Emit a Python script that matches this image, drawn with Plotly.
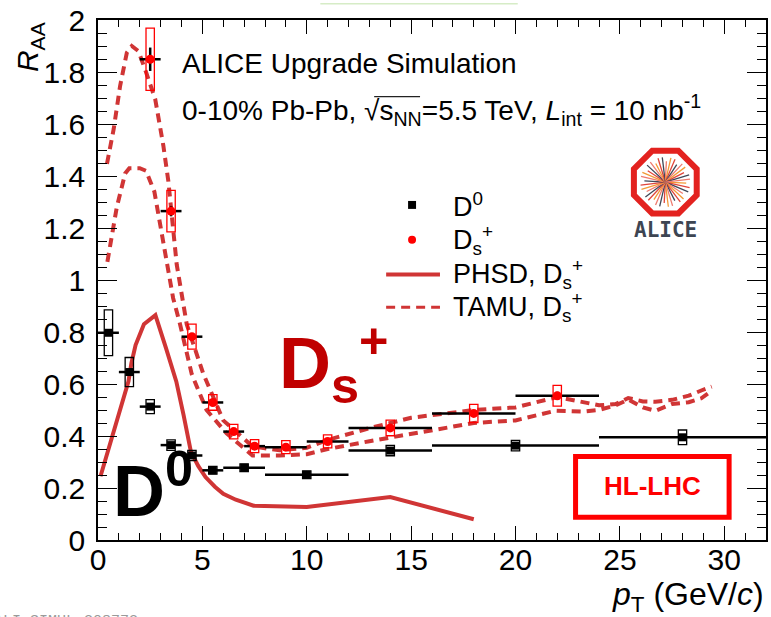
import math
import plotly.graph_objects as go

# ---------------- data ----------------
d0_pt = [0.5, 1.5, 2.5, 3.5, 4.5, 5.5, 7.0, 10.0, 14.0, 20.0, 28.0]
d0_ex = [0.5, 0.5, 0.5, 0.5, 0.5, 0.5, 1.0, 2.0, 2.0, 4.0, 4.0]
d0_raa = [0.797, 0.646, 0.513, 0.365, 0.325, 0.268, 0.278, 0.251, 0.344, 0.363, 0.395]
d0_stat = [0.01, 0.01, 0.01, 0.01, 0.01, 0.008, 0.008, 0.008, 0.01, 0.01, 0.012]
d0_syst = [0.088, 0.056, 0.027, 0.02, 0.02, 0.015, 0.015, 0.015, 0.02, 0.02, 0.028]

ds_pt = [2.5, 3.5, 4.5, 5.5, 6.5, 7.5, 9.0, 11.0, 14.0, 18.0, 22.0]
ds_ex = [0.5, 0.5, 0.5, 0.5, 0.5, 0.5, 1.0, 1.0, 2.0, 2.0, 2.0]
ds_raa = [1.849, 1.265, 0.782, 0.529, 0.417, 0.361, 0.357, 0.379, 0.431, 0.487, 0.555]
ds_stat = [0.045, 0.02, 0.012, 0.01, 0.01, 0.008, 0.008, 0.008, 0.01, 0.012, 0.015]
ds_syst = [0.12, 0.08, 0.048, 0.03, 0.028, 0.025, 0.025, 0.025, 0.03, 0.035, 0.04]

phsd_pt = [0.12, 0.8, 1.46, 1.6, 1.8, 2.2, 2.75, 3.25, 3.75, 4.1, 4.45, 4.8, 5.15,
           5.6, 6.0, 6.6, 7.45, 10.0, 14.0, 18.0]
phsd_raa = [0.245, 0.43, 0.61, 0.68, 0.75, 0.83, 0.865, 0.74, 0.61, 0.48, 0.34, 0.285,
            0.242, 0.205, 0.178, 0.155, 0.132, 0.127, 0.165, 0.08]

tamu_hi_pt = [0.43, 0.75, 1.06, 1.38, 1.62, 1.94, 2.3, 2.74, 3.13, 3.37, 3.77, 4.25, 5.04,
              6.0, 7.4, 8.7, 10.0, 11.0, 13.0, 15.0, 18.0, 20.0, 22.0, 23.3, 24.0, 24.8,
              25.4, 26.1, 26.7, 27.5, 28.3, 28.9, 29.4]
tamu_hi_raa = [1.447, 1.58, 1.747, 1.874, 1.90, 1.88, 1.80, 1.696, 1.517, 1.38, 1.06, 0.83,
               0.64, 0.46, 0.36, 0.345, 0.355, 0.385, 0.43, 0.47, 0.50, 0.51, 0.55, 0.528,
               0.518, 0.523, 0.546, 0.533, 0.532, 0.539, 0.555, 0.575, 0.59]
tamu_lo_pt = [0.45, 0.9, 1.3, 1.5, 2.0, 2.3, 2.7, 3.0, 3.3, 3.6, 3.93, 4.49, 5.2, 6.16,
              7.4, 8.7, 10.0, 11.0, 13.0, 14.5, 16.0, 18.0, 20.0, 21.9, 23.3, 24.0, 24.8,
              25.4, 26.1, 26.7, 27.5, 28.3, 28.9, 29.4]
tamu_lo_raa = [1.07, 1.28, 1.41, 1.43, 1.43, 1.42, 1.34, 1.21, 1.06, 0.93, 0.83, 0.638,
               0.50, 0.41, 0.325, 0.325, 0.33, 0.35, 0.38, 0.40, 0.42, 0.45, 0.46, 0.497,
               0.494, 0.50, 0.518, 0.54, 0.51, 0.497, 0.523, 0.53, 0.545, 0.574]

legend_labels = ["D<sup>0</sup>", "D<sub>s</sub><sup>+</sup>",
                 "PHSD, D<sub>s</sub><sup>+</sup>", "TAMU, D<sub>s</sub><sup>+</sup>"]

# ---------------- styling ----------------
W, H = 771, 617
ML, MR, MT, MB = 98, 3, 17, 77
PW, PH = W - ML - MR, H - MT - MB
FONT = "Liberation Sans, Arial, sans-serif"
THEO = "#d03535"
BOXW = 0.2


def px(x):
    return (x - ML) / PW


def py(y):
    return (H - MB - y) / PH


fig = go.Figure()

fig.add_trace(go.Scatter(x=phsd_pt, y=phsd_raa, mode="lines",
                         line=dict(color=THEO, width=4), showlegend=False))
fig.add_trace(go.Scatter(x=tamu_hi_pt, y=tamu_hi_raa, mode="lines",
                         line=dict(color=THEO, width=4, dash="9px,6px"), showlegend=False))
fig.add_trace(go.Scatter(x=tamu_lo_pt, y=tamu_lo_raa, mode="lines",
                         line=dict(color=THEO, width=4, dash="9px,6px"), showlegend=False))

fig.add_trace(go.Scatter(
    x=d0_pt, y=d0_raa, mode="markers",
    marker=dict(symbol="square", size=8, color="black"),
    error_x=dict(type="data", array=d0_ex, color="black", thickness=2.5, width=0),
    error_y=dict(type="data", array=d0_stat, color="black", thickness=2.5, width=0),
    showlegend=False))
fig.add_trace(go.Scatter(
    x=ds_pt, y=ds_raa, mode="markers",
    marker=dict(symbol="circle", size=9, color="#ff0000"),
    error_x=dict(type="data", array=ds_ex, color="black", thickness=2.5, width=0),
    error_y=dict(type="data", array=ds_stat, color="black", thickness=2.5, width=0),
    showlegend=False))

shapes = []
for x, y, s in zip(d0_pt, d0_raa, d0_syst):
    shapes.append(dict(type="rect", xref="x", yref="y", x0=x - BOXW, x1=x + BOXW,
                       y0=y - s, y1=y + s, line=dict(color="black", width=1.3)))
for x, y, s in zip(ds_pt, ds_raa, ds_syst):
    shapes.append(dict(type="rect", xref="x", yref="y", x0=x - BOXW, x1=x + BOXW,
                       y0=y - s, y1=y + s, line=dict(color="#ff0000", width=1.3)))

# legend symbols
shapes.append(dict(type="rect", xref="paper", yref="paper", x0=px(409), x1=px(417),
                   y0=py(207), y1=py(199), fillcolor="black", line=dict(width=0)))
shapes.append(dict(type="circle", xref="paper", yref="paper", x0=px(409), x1=px(417),
                   y0=py(242), y1=py(234), fillcolor="#ff0000", line=dict(width=0)))
shapes.append(dict(type="line", xref="paper", yref="paper", x0=px(387), x1=px(441),
                   y0=py(273), y1=py(273), line=dict(color=THEO, width=4)))
shapes.append(dict(type="line", xref="paper", yref="paper", x0=px(387), x1=px(441),
                   y0=py(306), y1=py(306), line=dict(color=THEO, width=3, dash="9px,6px")))

# overline of sqrt
shapes.append(dict(type="line", xref="paper", yref="paper", x0=px(375), x1=px(421),
                   y0=py(94), y1=py(94), line=dict(color="#222", width=1.2)))

# HL-LHC box
shapes.append(dict(type="rect", xref="paper", yref="paper", x0=px(577), x1=px(731),
                   y0=py(517), y1=py(456), line=dict(color="#ff0000", width=5)))

# top green line
shapes.append(dict(type="line", xref="paper", yref="paper", x0=px(321), x1=px(519),
                   y0=py(0.7), y1=py(0.7), line=dict(color="#d6ecc6", width=1.5)))

# ALICE logo
cx, cy, R = 667, 180, 31.5
oct_pts = []
for k in range(8):
    a = math.radians(22.5 + 45 * k)
    oct_pts.append((cx + R / math.cos(math.radians(22.5)) * math.cos(a),
                    cy + R / math.cos(math.radians(22.5)) * math.sin(a)))
path = "M " + " L ".join(f"{px(a):.5f},{py(b):.5f}" for a, b in oct_pts) + " Z"
ray_cols = ["#f39a35", "#e0453a", "#3f4756", "#ee7a6e"]
for k in range(36):
    a = math.radians(k * 10 + 3)
    r = 25 if k % 3 else 21
    shapes.append(dict(type="line", xref="paper", yref="paper",
                       x0=px(cx), y0=py(cy),
                       x1=px(cx + r * math.cos(a)), y1=py(cy + r * math.sin(a)),
                       line=dict(color=ray_cols[k % 4], width=1.3)))
shapes.append(dict(type="path", xref="paper", yref="paper", path=path,
                   line=dict(color="#e3221f", width=6)))

annotations = []


def ann(text, x, y, size, xanchor="left", yanchor="middle", color="black", angle=0,
        family=FONT):
    annotations.append(dict(text=text, x=px(x), y=py(y), xref="paper", yref="paper",
                            xanchor=xanchor, yanchor=yanchor, showarrow=False,
                            textangle=angle, font=dict(size=size, color=color, family=family)))


ann("ALICE Upgrade Simulation", 180, 61, 28)
ann("0-10% Pb-Pb, √s<sub>NN</sub>=5.5 TeV, <i>L</i><sub>int</sub> = 10 nb<sup>-1</sup>",
    180, 108, 28)
ann("<b>ALICE</b>", cx, 228, 21, xanchor="center", color="#3d4552",
    family="DejaVu Sans Mono, monospace")

for lab, yy in zip(legend_labels, [203, 238, 272, 306]):
    ann(lab, 452, yy, 27)

ann("<b>D<sub>s</sub><sup>+</sup></b>", 278, 362, 72, color="#c00000")
ann("<b>D<sup>0</sup></b>", 111, 485, 72)
ann("<b>HL-LHC</b>", 654, 486, 26, xanchor="center", color="#ff0000")

ann("<i>R</i><sub>AA</sub>", 30, 44, 30, xanchor="center", angle=-90)
ann("<i>p</i><sub>T</sub> (GeV/<i>c</i>)", 768, 597, 32, xanchor="right")
ann("ALI-SIMUL-308773", -8, 622, 15, color="#9a9a9a", family="Liberation Mono, monospace")

fig.update_layout(
    width=W, height=H, margin=dict(l=ML, r=MR, t=MT, b=MB),
    paper_bgcolor="white", plot_bgcolor="white",
    shapes=shapes, annotations=annotations,
    font=dict(family=FONT, color="black"),
    showlegend=False,
)
fig.update_xaxes(range=[0, 32], tick0=0, dtick=5, ticks="inside", ticklen=14,
                 tickwidth=1.2, tickcolor="black",
                 minor=dict(dtick=1, ticks="inside", ticklen=7, tickcolor="black", tickwidth=1.2),
                 showline=True, linecolor="black", linewidth=1.5, mirror="ticks",
                 showgrid=False, zeroline=False, tickfont=dict(size=30, family=FONT),
                 ticklabelstandoff=-8)
fig.update_yaxes(range=[0, 2], tick0=0, dtick=0.2, ticks="inside", ticklen=19,
                 tickwidth=1.2, tickcolor="black",
                 minor=dict(dtick=0.05, ticks="inside", ticklen=9, tickcolor="black", tickwidth=1.2),
                 showline=True, linecolor="black", linewidth=1.5, mirror="ticks",
                 showgrid=False, zeroline=False, tickfont=dict(size=30, family=FONT),
                 ticklabelstandoff=5)

fig.write_html("out.html")
